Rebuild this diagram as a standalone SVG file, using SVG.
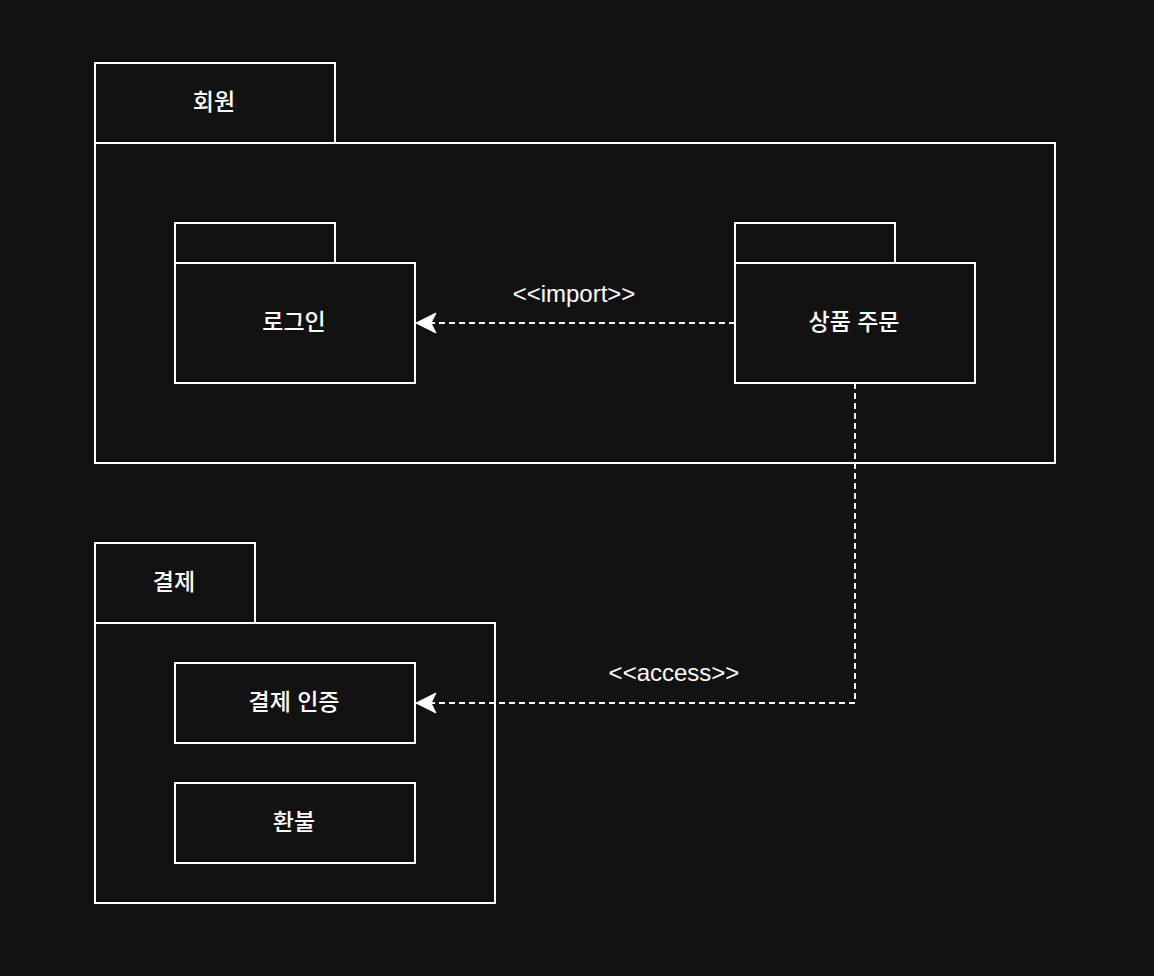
<svg xmlns="http://www.w3.org/2000/svg" width="1154" height="976" viewBox="0 0 1154 976">
<style>
.box{fill:#121212;stroke:#ffffff;stroke-width:2}
.lbl{fill:#ffffff;font-family:"Liberation Sans","Noto Sans CJK KR",sans-serif;font-size:23px;font-weight:500;text-anchor:middle;dominant-baseline:central}
.elbl{fill:#ffffff;font-family:"Liberation Sans",sans-serif;font-size:24px;text-anchor:middle;dominant-baseline:central}
.edge{fill:none;stroke:#ffffff;stroke-width:2;stroke-dasharray:6 4}
</style>
<defs>
<marker id="arr" markerWidth="22" markerHeight="22" viewBox="0 0 22 22" refX="21" refY="11" orient="auto" markerUnits="userSpaceOnUse">
<path d="M21,11 L1,1 L6,11 L1,21 Z" fill="#ffffff" stroke="#ffffff" stroke-width="1"/>
</marker>
</defs>
<rect width="1154" height="976" fill="#121212"/>
<g id="pkg-member">
<rect class="box" x="95" y="63" width="240" height="80"/>
<rect class="box" x="95" y="143" width="960" height="320"/>
<text class="lbl" x="214" y="102">회원</text>
</g>
<g id="pkg-login">
<rect class="box" x="175" y="223" width="160" height="40"/>
<rect class="box" x="175" y="263" width="240" height="120"/>
<text class="lbl" x="294" y="322">로그인</text>
</g>
<g id="pkg-order">
<rect class="box" x="735" y="223" width="160" height="40"/>
<rect class="box" x="735" y="263" width="240" height="120"/>
<text class="lbl" x="854" y="322">상품 주문</text>
</g>
<g id="pkg-payment">
<rect class="box" x="95" y="543" width="160" height="80"/>
<rect class="box" x="95" y="623" width="400" height="280"/>
<text class="lbl" x="174" y="582">결제</text>
</g>
<g id="node-auth">
<rect class="box" x="175" y="663" width="240" height="80"/>
<text class="lbl" x="294" y="702">결제 인증</text>
</g>
<g id="node-refund">
<rect class="box" x="175" y="783" width="240" height="80"/>
<text class="lbl" x="294" y="822">환불</text>
</g>
<g id="connectors">
<path class="edge" d="M735,323 L416,323" marker-end="url(#arr)"/>
<text class="elbl" x="574" y="293">&lt;&lt;import&gt;&gt;</text>
<path class="edge" d="M855,383 L855,703 L416,703" marker-end="url(#arr)"/>
<text class="elbl" x="674" y="672">&lt;&lt;access&gt;&gt;</text>
</g>
</svg>
